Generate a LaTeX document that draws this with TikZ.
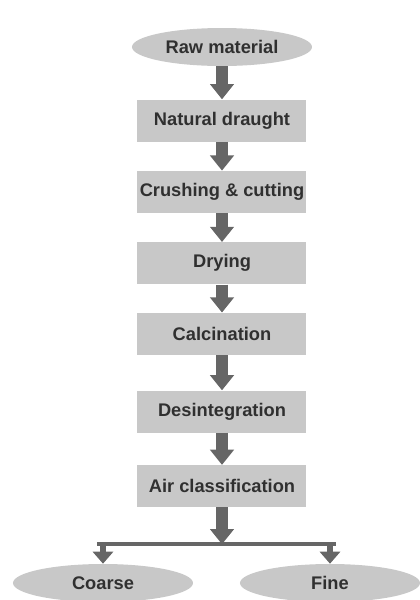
\documentclass[tikz,border=0pt]{standalone}
\usepackage{fontspec}
\setmainfont{Liberation Sans}
\usepackage{xcolor}
\usepackage{tikz}
\usetikzlibrary{shapes.geometric,arrows.meta,positioning,calc}
\definecolor{cajagris}{HTML}{C8C8C8}
\definecolor{flechagris}{HTML}{666666}
\definecolor{textogris}{HTML}{303030}
\tikzset{
  paso/.style={rectangle, fill=cajagris, draw=none,
               minimum width=4.225cm, minimum height=1.05cm, inner sep=1pt,
               align=center, font=\bfseries\fontsize{13}{15}\selectfont, text=textogris},
  extremo/.style={ellipse, fill=cajagris, draw=none,
                  minimum width=4.5cm, minimum height=0.95cm, inner sep=1pt,
                  align=center, font=\bfseries\fontsize{13}{15}\selectfont, text=textogris},
  flecha/.style={-{Triangle[length=3.8mm,width=5.8mm]}, line width=3mm, flechagris},
  flechita/.style={-{Triangle[length=3mm,width=5mm]}, line width=1.5mm, flechagris},
  barra/.style={line width=0.9mm, flechagris}
}
\begin{document}
\begin{tikzpicture}[node distance=0.72cm]
  \useasboundingbox (-5.55,1.175) rectangle (4.95,-13.825);
  % Proceso
  \node[extremo] (raw) {Raw material};
  \node[paso, below=0.825cm of raw] (p1) {Natural draught};
  \node[paso, below=of p1] (p2) {Crushing \& cutting};
  \node[paso, below=of p2] (p3) {Drying};
  \node[paso, below=0.7cm of p3] (p4) {Calcination};
  \node[paso, below=0.88cm of p4] (p5) {Desintegration};
  \node[paso, below=0.8cm of p5] (p6) {Air classification};
  \draw[flecha](raw)--(p1);\draw[flecha](p1)--(p2);\draw[flecha](p2)--(p3);
  \draw[flecha](p3)--(p4);\draw[flecha](p4)--(p5);\draw[flecha](p5)--(p6);

  % Salidas
  \coordinate[below=0.92cm of p6.south] (div);
  \node[extremo] (coarse) at (-2.975,-13.4) {Coarse};
  \node[extremo] (fine) at (2.7,-13.4) {Fine};
  \coordinate (divi) at (coarse.north |- div);
  \coordinate (divd) at (fine.north |- div);
  \draw[barra] ($(divi)+(-0.15,0)$) -- ($(divd)+(0.15,0)$);
  \draw[flecha](p6.south)--(div);
  \draw[flechita](divi)--(coarse.north);
  \draw[flechita](divd)--(fine.north);
\end{tikzpicture}
\end{document}
